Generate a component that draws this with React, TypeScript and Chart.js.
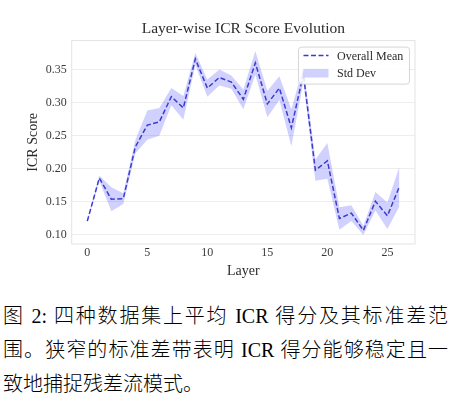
import React, { useEffect, useRef } from "react";
import { Chart, registerables } from "chart.js";

Chart.register(...registerables);

const layers = [0, 1, 2, 3, 4, 5, 6, 7, 8, 9, 10, 11, 12, 13, 14, 15, 16, 17, 18, 19, 20, 21, 22, 23, 24, 25, 26];
const meanScores = [0.121, 0.186, 0.154, 0.155, 0.233, 0.266, 0.271, 0.309, 0.292, 0.366, 0.322, 0.338, 0.331, 0.305, 0.360, 0.298, 0.322, 0.262, 0.343, 0.198, 0.212, 0.125, 0.133, 0.107, 0.151, 0.129, 0.173];
const stdDevs = [0.002, 0.004, 0.018, 0.008, 0.010, 0.022, 0.021, 0.013, 0.018, 0.009, 0.013, 0.012, 0.010, 0.015, 0.018, 0.020, 0.018, 0.028, 0.012, 0.016, 0.027, 0.017, 0.012, 0.007, 0.014, 0.020, 0.030];
const xTicks = [0, 5, 10, 15, 20, 25];
const yTicks = [0.1, 0.15, 0.2, 0.25, 0.3, 0.35];
const legendLabels = ["Overall Mean", "Std Dev"];
const titleText = "Layer-wise ICR Score Evolution";
const captionLines = [
  "图 2: 四种数据集上平均 ICR 得分及其标准差范",
  "围。狭窄的标准差带表明 ICR 得分能够稳定且一",
  "致地捕捉残差流模式。",
];

const SERIF = "'Liberation Serif', 'Times New Roman', serif";
const LINE_COLOR = "#3b3bd0";
const BAND_COLOR = "rgba(0,0,255,0.18)";
const TEXT_COLOR = "#2b2b2b";

const framePlugin = {
  id: "frameAndLegend",
  afterDatasetsDraw(chart: any) {
    const { ctx, chartArea } = chart;
    ctx.save();
    ctx.strokeStyle = "#e3e3e3";
    ctx.lineWidth = 1;
    ctx.strokeRect(chartArea.left, chartArea.top, chartArea.right - chartArea.left, chartArea.bottom - chartArea.top);
    const w = 111;
    const h = 37;
    const x = chartArea.right - 5.5 - w;
    const y = chartArea.top + 6.5;
    ctx.beginPath();
    if ((ctx as any).roundRect) (ctx as any).roundRect(x, y, w, h, 3);
    else ctx.rect(x, y, w, h);
    ctx.fillStyle = "rgba(255,255,255,0.85)";
    ctx.fill();
    ctx.strokeStyle = "#d6d6d6";
    ctx.stroke();
    ctx.beginPath();
    ctx.setLineDash([5, 2.5]);
    ctx.strokeStyle = LINE_COLOR;
    ctx.lineWidth = 1.5;
    ctx.moveTo(x + 5, y + 8.5);
    ctx.lineTo(x + 30, y + 8.5);
    ctx.stroke();
    ctx.setLineDash([]);
    ctx.fillStyle = BAND_COLOR;
    ctx.fillRect(x + 5, y + 21.8, 25, 8.6);
    ctx.fillStyle = TEXT_COLOR;
    ctx.font = "12px " + SERIF;
    ctx.textBaseline = "middle";
    ctx.textAlign = "left";
    ctx.fillText(legendLabels[0], x + 38.5, y + 9.3);
    ctx.fillText(legendLabels[1], x + 38.5, y + 26.8);
    ctx.restore();
  },
};

function ChartCanvas() {
  const ref = useRef<HTMLCanvasElement | null>(null);
  useEffect(() => {
    document.body.style.margin = "0";
    if (!ref.current) return;
    const lower = layers.map((x, i) => ({ x, y: meanScores[i] - stdDevs[i] }));
    const upper = layers.map((x, i) => ({ x, y: meanScores[i] + stdDevs[i] }));
    const mean = layers.map((x, i) => ({ x, y: meanScores[i] }));
    const chart = new Chart(ref.current, {
      type: "line",
      data: {
        datasets: [
          {
            label: legendLabels[0],
            data: mean,
            borderColor: LINE_COLOR,
            borderWidth: 1.5,
            borderDash: [5, 2.5],
            pointRadius: 0,
            fill: false,
            tension: 0,
          },
          {
            label: "lower",
            data: lower,
            borderWidth: 0,
            borderColor: "rgba(0,0,0,0)",
            backgroundColor: BAND_COLOR,
            pointRadius: 0,
            fill: false,
          },
          {
            label: legendLabels[1],
            data: upper,
            borderWidth: 0,
            borderColor: "rgba(0,0,0,0)",
            backgroundColor: BAND_COLOR,
            pointRadius: 0,
            fill: 1,
          },
        ],
      },
      options: {
        animation: false,
        responsive: false,
        maintainAspectRatio: false,
        layout: { padding: { left: 0, right: 37, top: 0, bottom: 0 } },
        plugins: {
          legend: { display: false },
          tooltip: { enabled: false },
          title: {
            display: true,
            text: titleText,
            fullSize: false,
            color: TEXT_COLOR,
            font: { family: SERIF, size: 15.5, weight: "normal" },
            padding: { top: 20, bottom: 2 },
          },
        },
        scales: {
          x: {
            type: "linear",
            min: -1.3,
            max: 27.3,
            grid: { display: false, drawTicks: false },
            border: { display: false },
            afterBuildTicks: (s: any) => {
              s.ticks = xTicks.map((v) => ({ value: v }));
            },
            afterFit: (s: any) => {
              s.height = 46;
            },
            ticks: {
              color: "#3a3a3a",
              font: { family: SERIF, size: 12 },
              padding: 2,
              maxRotation: 0,
              callback: (v: any) => String(v),
            },
            title: {
              display: true,
              text: "Layer",
              color: TEXT_COLOR,
              font: { family: SERIF, size: 14 },
              padding: { top: 0, bottom: 10 },
            },
          },
          y: {
            type: "linear",
            min: 0.0864,
            max: 0.3937,
            grid: { color: "#ededed", lineWidth: 1, drawTicks: false },
            border: { display: false },
            afterBuildTicks: (s: any) => {
              s.ticks = yTicks.map((v) => ({ value: v }));
            },
            afterFit: (s: any) => {
              s.width = 71.7;
            },
            ticks: {
              color: "#3a3a3a",
              font: { family: SERIF, size: 12 },
              padding: 5,
              callback: (v: any) => Number(v).toFixed(2),
            },
            title: {
              display: true,
              text: "ICR Score",
              color: TEXT_COLOR,
              font: { family: SERIF, size: 14 },
              padding: { top: 24.6, bottom: 0 },
            },
          },
        },
      },
      plugins: [framePlugin],
    } as any);
    return () => chart.destroy();
  }, []);
  return <canvas ref={ref} width={452} height={290} style={{ display: "block", width: 452, height: 290 }} />;
}

export default function App() {
  return (
    <div style={{ position: "fixed", left: 0, top: 0, width: 452, height: 398, background: "#fff", overflow: "hidden" }}>
      <ChartCanvas />
      <div
        style={{
          position: "absolute",
          left: 3,
          top: 299,
          width: 445,
          fontFamily: "'Liberation Serif', 'Noto Sans CJK SC', serif",
          fontSize: 20,
          fontWeight: 300,
          color: "#000",
        }}
      >
        {captionLines.map((t, i) => (
          <div
            key={i}
            style={{
              height: 34,
              lineHeight: "34px",
              whiteSpace: "nowrap",
              textAlign: i < captionLines.length - 1 ? "justify" : "left",
              textAlignLast: i < captionLines.length - 1 ? "justify" : "auto",
              textJustify: "inter-character",
            } as React.CSSProperties}
          >
            {t}
          </div>
        ))}
      </div>
    </div>
  );
}
